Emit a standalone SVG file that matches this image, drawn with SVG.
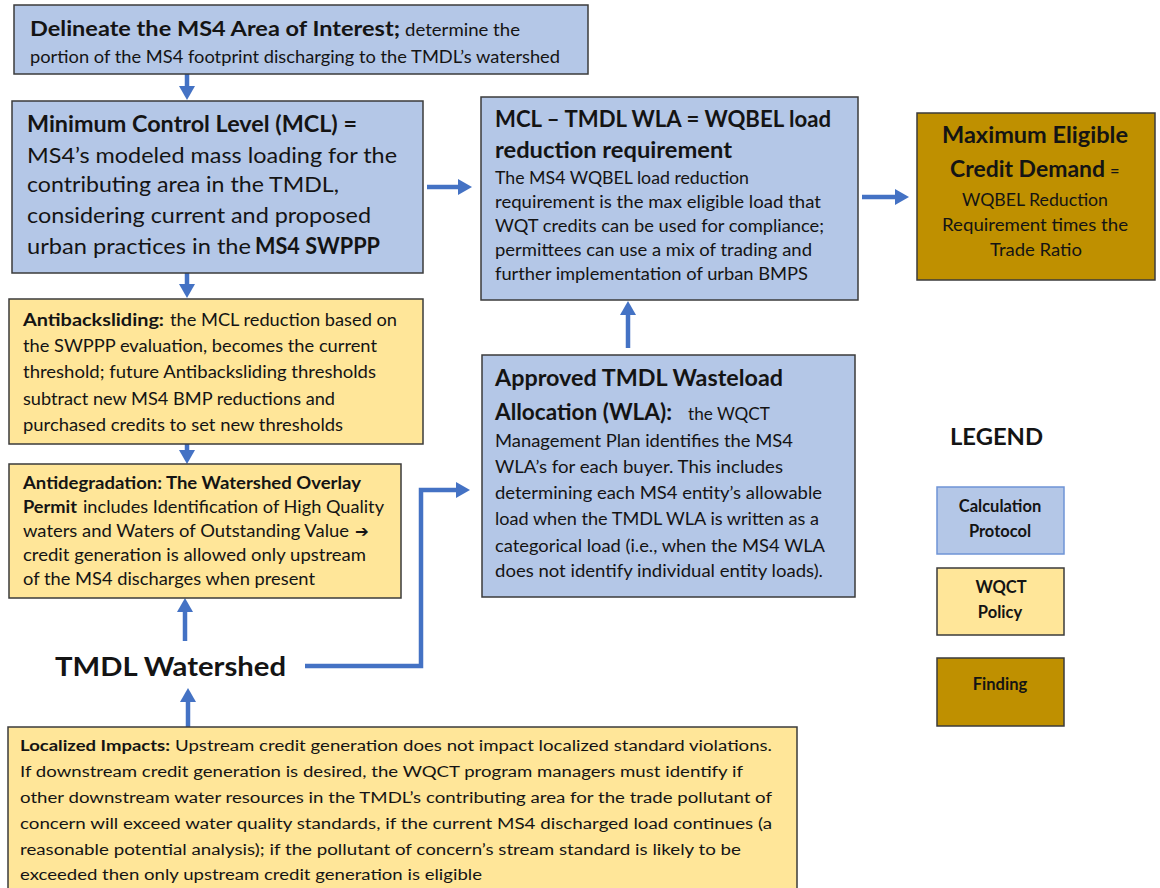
<svg xmlns="http://www.w3.org/2000/svg" width="1160" height="888" viewBox="0 0 1160 888">
  <style>
    .calc { fill: #b4c7e7; stroke: #3b3b3b; stroke-width: 1.5; }
    .policy { fill: #ffe699; stroke: #3b3b3b; stroke-width: 1.5; }
    .finding { fill: #bf9000; stroke: #3b3b3b; stroke-width: 1.5; }
    text { font-family: Lato, "Open Sans", "Liberation Sans", sans-serif; fill: #141414; }
    .b { font-weight: bold; }
    .t22 { font-size: 22px; }
    .t20 { font-size: 20px; }
    .t16 { font-size: 16.5px; }
    .t15 { font-size: 15.5px; }
    .mid { text-anchor: middle; }
    .wire { fill: none; stroke: #4472c4; stroke-width: 4.5; }
  </style>
  <defs>
    <marker id="head" markerUnits="userSpaceOnUse" markerWidth="16" markerHeight="16" refX="0" refY="8" orient="auto">
      <path d="M0,0 L14,8 L0,16 Z" fill="#4472c4"/>
    </marker>
  </defs>

  <rect width="1160" height="888" fill="#ffffff"/>

  <!-- connectors -->
  <g id="connectors">
    <path class="wire" d="M187,74 V86" marker-end="url(#head)"/>
    <path class="wire" d="M187,273 V284" marker-end="url(#head)"/>
    <path class="wire" d="M187,444 V450" marker-end="url(#head)"/>
    <path class="wire" d="M185,641 V612" marker-end="url(#head)"/>
    <path class="wire" d="M188,727 V702" marker-end="url(#head)"/>
    <path class="wire" d="M427,187 H458" marker-end="url(#head)"/>
    <path class="wire" d="M862,197 H895" marker-end="url(#head)"/>
    <path class="wire" d="M628,348 V315" marker-end="url(#head)"/>
    <path class="wire" d="M305,666 H421 V490 H456" marker-end="url(#head)"/>
  </g>

  <!-- area of interest -->
  <g id="delineate">
    <rect class="calc" x="14" y="5" width="574" height="69"/>
    <text class="b t20" x="30" y="36" textLength="370" lengthAdjust="spacingAndGlyphs">Delineate the MS4 Area of Interest;</text>
    <text class="t16" x="405" y="36" textLength="115" lengthAdjust="spacingAndGlyphs">determine the</text>
    <text class="t16" x="30" y="63" textLength="530" lengthAdjust="spacingAndGlyphs">portion of the MS4 footprint discharging to the TMDL’s watershed</text>
  </g>

  <!-- minimum control level -->
  <g id="mcl">
    <rect class="calc" x="12" y="101" width="411" height="172"/>
    <text class="b t22" x="27" y="132" textLength="330" lengthAdjust="spacingAndGlyphs">Minimum Control Level (MCL) =</text>
    <text class="t22" x="27" y="163" textLength="370" lengthAdjust="spacingAndGlyphs">MS4’s modeled mass loading for the</text>
    <text class="t22" x="27" y="192" textLength="312" lengthAdjust="spacingAndGlyphs">contributing area in the TMDL,</text>
    <text class="t22" x="27" y="223" textLength="344" lengthAdjust="spacingAndGlyphs">considering current and proposed</text>
    <text class="t22" x="27" y="254" textLength="224" lengthAdjust="spacingAndGlyphs">urban practices in the</text>
    <text class="b t22" x="255" y="254" textLength="125" lengthAdjust="spacingAndGlyphs">MS4 SWPPP</text>
  </g>

  <!-- antibacksliding -->
  <g id="antibacksliding">
    <rect class="policy" x="9" y="299" width="414" height="145"/>
    <text class="b t16" x="23" y="326" textLength="141" lengthAdjust="spacingAndGlyphs">Antibacksliding:</text>
    <text class="t16" x="170" y="326" textLength="227" lengthAdjust="spacingAndGlyphs">the MCL reduction based on</text>
    <text class="t16" x="23" y="352" textLength="354" lengthAdjust="spacingAndGlyphs">the SWPPP evaluation, becomes the current</text>
    <text class="t16" x="23" y="378" textLength="353" lengthAdjust="spacingAndGlyphs">threshold; future Antibacksliding thresholds</text>
    <text class="t16" x="23" y="405" textLength="312" lengthAdjust="spacingAndGlyphs">subtract new MS4 BMP reductions and</text>
    <text class="t16" x="23" y="431" textLength="320" lengthAdjust="spacingAndGlyphs">purchased credits to set new thresholds</text>
  </g>

  <!-- antidegradation -->
  <g id="antidegradation">
    <rect class="policy" x="9" y="464" width="392" height="134"/>
    <text class="b t16" x="23" y="489" textLength="338" lengthAdjust="spacingAndGlyphs">Antidegradation: The Watershed Overlay</text>
    <text class="b t16" x="23" y="513" textLength="54" lengthAdjust="spacingAndGlyphs">Permit</text>
    <text class="t16" x="83" y="513" textLength="301" lengthAdjust="spacingAndGlyphs">includes Identification of High Quality</text>
    <text class="t16" x="23" y="537" textLength="326" lengthAdjust="spacingAndGlyphs">waters and Waters of Outstanding Value</text>
    <text class="b t16" x="355" y="537" style="font-family: 'DejaVu Sans', sans-serif">➔</text>
    <text class="t16" x="23" y="561" textLength="343" lengthAdjust="spacingAndGlyphs">credit generation is allowed only upstream</text>
    <text class="t16" x="23" y="585" textLength="292" lengthAdjust="spacingAndGlyphs">of the MS4 discharges when present</text>
  </g>

  <!-- watershed label -->
  <g id="watershed">
    <text class="b" x="55" y="676" font-size="27" textLength="231" lengthAdjust="spacingAndGlyphs">TMDL Watershed</text>
  </g>

  <!-- localized impacts -->
  <g id="localized">
    <rect class="policy" x="8" y="727" width="789" height="170"/>
    <text class="b t15" x="20" y="751" textLength="150" lengthAdjust="spacingAndGlyphs">Localized Impacts:</text>
    <text class="t15" x="175" y="751" textLength="597" lengthAdjust="spacingAndGlyphs">Upstream credit generation does not impact localized standard violations.</text>
    <text class="t15" x="20" y="777" textLength="723" lengthAdjust="spacingAndGlyphs">If downstream credit generation is desired, the WQCT program managers must identify if</text>
    <text class="t15" x="20" y="803" textLength="752" lengthAdjust="spacingAndGlyphs">other downstream water resources in the TMDL’s contributing area for the trade pollutant of</text>
    <text class="t15" x="20" y="829" textLength="752" lengthAdjust="spacingAndGlyphs">concern will exceed water quality standards, if the current MS4 discharged load continues (a</text>
    <text class="t15" x="20" y="855" textLength="721" lengthAdjust="spacingAndGlyphs">reasonable potential analysis); if the pollutant of concern’s stream standard is likely to be</text>
    <text class="t15" x="20" y="880" textLength="462" lengthAdjust="spacingAndGlyphs">exceeded then only upstream credit generation is eligible</text>
  </g>

  <!-- WQBEL requirement -->
  <g id="wqbel">
    <rect class="calc" x="481" y="97" width="377" height="203"/>
    <text class="b t22" x="495" y="127" textLength="336" lengthAdjust="spacingAndGlyphs">MCL – TMDL WLA = WQBEL load</text>
    <text class="b t22" x="495" y="158" textLength="237" lengthAdjust="spacingAndGlyphs">reduction requirement</text>
    <text class="t16" x="495" y="184" textLength="254" lengthAdjust="spacingAndGlyphs">The MS4 WQBEL load reduction</text>
    <text class="t16" x="495" y="208" textLength="326" lengthAdjust="spacingAndGlyphs">requirement is the max eligible load that</text>
    <text class="t16" x="495" y="232" textLength="329" lengthAdjust="spacingAndGlyphs">WQT credits can be used for compliance;</text>
    <text class="t16" x="495" y="256" textLength="317" lengthAdjust="spacingAndGlyphs">permittees can use a mix of trading and</text>
    <text class="t16" x="495" y="280" textLength="313" lengthAdjust="spacingAndGlyphs">further implementation of urban BMPS</text>
  </g>

  <!-- approved wasteload allocation -->
  <g id="wla">
    <rect class="calc" x="482" y="355" width="373" height="242"/>
    <text class="b t22" x="495" y="386" textLength="288" lengthAdjust="spacingAndGlyphs">Approved TMDL Wasteload</text>
    <text class="b t22" x="495" y="420" textLength="177" lengthAdjust="spacingAndGlyphs">Allocation (WLA):</text>
    <text class="t16" x="688" y="420" textLength="82" lengthAdjust="spacingAndGlyphs">the WQCT</text>
    <text class="t16" x="495" y="447" textLength="298" lengthAdjust="spacingAndGlyphs">Management Plan identifies the MS4</text>
    <text class="t16" x="495" y="473" textLength="288" lengthAdjust="spacingAndGlyphs">WLA’s for each buyer.  This includes</text>
    <text class="t16" x="495" y="499" textLength="327" lengthAdjust="spacingAndGlyphs">determining each MS4 entity’s allowable</text>
    <text class="t16" x="495" y="525" textLength="324" lengthAdjust="spacingAndGlyphs">load when the TMDL WLA is written as a</text>
    <text class="t16" x="495" y="552" textLength="330" lengthAdjust="spacingAndGlyphs">categorical load (i.e., when the MS4 WLA</text>
    <text class="t16" x="495" y="577" textLength="328" lengthAdjust="spacingAndGlyphs">does not identify individual entity loads).</text>
  </g>

  <!-- maximum eligible credit demand -->
  <g id="demand">
    <rect class="finding" x="917" y="113" width="238" height="167"/>
    <text class="b t22" x="942" y="143" textLength="186" lengthAdjust="spacingAndGlyphs">Maximum Eligible</text>
    <text class="b t22" x="950" y="177" textLength="155" lengthAdjust="spacingAndGlyphs">Credit Demand</text>
    <text class="t16" x="1110" y="177">=</text>
    <text class="t16" x="962" y="206" textLength="146" lengthAdjust="spacingAndGlyphs">WQBEL Reduction</text>
    <text class="t16" x="942" y="231" textLength="186" lengthAdjust="spacingAndGlyphs">Requirement times the</text>
    <text class="t16" x="990" y="256" textLength="92" lengthAdjust="spacingAndGlyphs">Trade Ratio</text>
  </g>

  <!-- legend -->
  <g id="legend">
    <text class="b t22" x="950" y="445" textLength="93" lengthAdjust="spacingAndGlyphs">LEGEND</text>
    <rect x="937" y="487" width="127" height="67" fill="#b4c7e7" stroke="#6f94d6" stroke-width="1.5"/>
    <text class="b t16 mid" x="1000" y="512">Calculation</text>
    <text class="b t16 mid" x="1000" y="537">Protocol</text>
    <rect class="policy" x="937" y="568" width="127" height="67"/>
    <text class="b t16 mid" x="1001" y="593">WQCT</text>
    <text class="b t16 mid" x="1000" y="618">Policy</text>
    <rect class="finding" x="937" y="658" width="127" height="68"/>
    <text class="b t16 mid" x="1000" y="690">Finding</text>
  </g>
</svg>
